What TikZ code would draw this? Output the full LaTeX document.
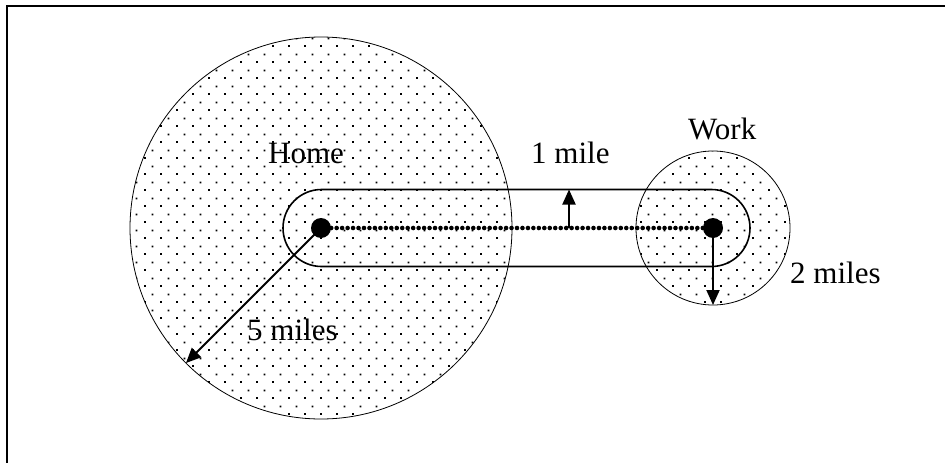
\documentclass[tikz,border=0pt]{standalone}
\usepackage{fontspec}
\setmainfont{Liberation Serif}
\usepackage{tikz}
\usetikzlibrary{patterns,arrows.meta,calc}
\definecolor{inkblack}{HTML}{000000}

% staggered stipple, 16pt tile
\pgfdeclarepatternformonly{stipple}{\pgfpointorigin}{\pgfpoint{16pt}{16pt}}{\pgfpoint{16pt}{16pt}}{%
  \pgfpathrectangle{\pgfpoint{0pt}{0pt}}{\pgfpoint{2pt}{2pt}}%
  \pgfpathrectangle{\pgfpoint{8pt}{8pt}}{\pgfpoint{2pt}{2pt}}%
  \pgfusepath{fill}}

\tikzset{
  zone/.style={circle, draw=inkblack, line width=0.8pt, pattern=stipple, pattern color=inkblack, inner sep=0pt, outer sep=0pt},
  spot/.style={circle, fill=inkblack, minimum size=20pt, inner sep=0pt},
  radius arrow/.style={line width=2pt, -{Triangle[length=15pt,width=13pt]}},
  label text/.style={font=\fontsize{31}{36}\selectfont, inner sep=0pt, anchor=base west}
}

\begin{document}
\begin{tikzpicture}[x=1pt, y=-1pt]
    \useasboundingbox (0,0) rectangle (945,463);
    \draw[line width=2pt] (7,463) -- (7,5.5) -- (945,5.5);

    \coordinate (home) at (321,228);
    \coordinate (work) at (713,228);

    \node[zone, minimum size=382pt] (homezone) at (home) {};
    \node[zone, minimum size=154pt] (workzone) at (work) {};

    % one mile band round the trip
    \draw[line width=1.6pt, rounded corners=38.5pt]
      ([shift={(-38,-38.5)}]home) rectangle ([shift={(37,38.5)}]work);

    \node[spot] (homespot) at (home) {};
    \node[spot] (workspot) at (work) {};

    % beaded trip line
    \foreach \i in {0,...,68}
      \fill[inkblack] ($(homespot.east)!\i/68!(workspot.west)$) circle (2.3pt);

    \coordinate (bandmid) at (569,228);
    \coordinate (bandtop) at (569,189.5);
    \draw[radius arrow] (bandmid) -- (bandtop);
    \draw[radius arrow] (homespot.center) -- (homezone.south west);
    \draw[radius arrow] (workspot.center) -- (workzone.south);

    \node[label text] (hometext) at (268,163) {Home};
    \node[label text] (worktext) at (688,139) {Work};
    \node[label text] (bandtext) at (531,163) {1 mile};
    \node[label text] (fivetext) at (247,340) {5 miles};
    \node[label text] (twotext) at (790,283) {2 miles};
  \end{tikzpicture}
\end{document}
